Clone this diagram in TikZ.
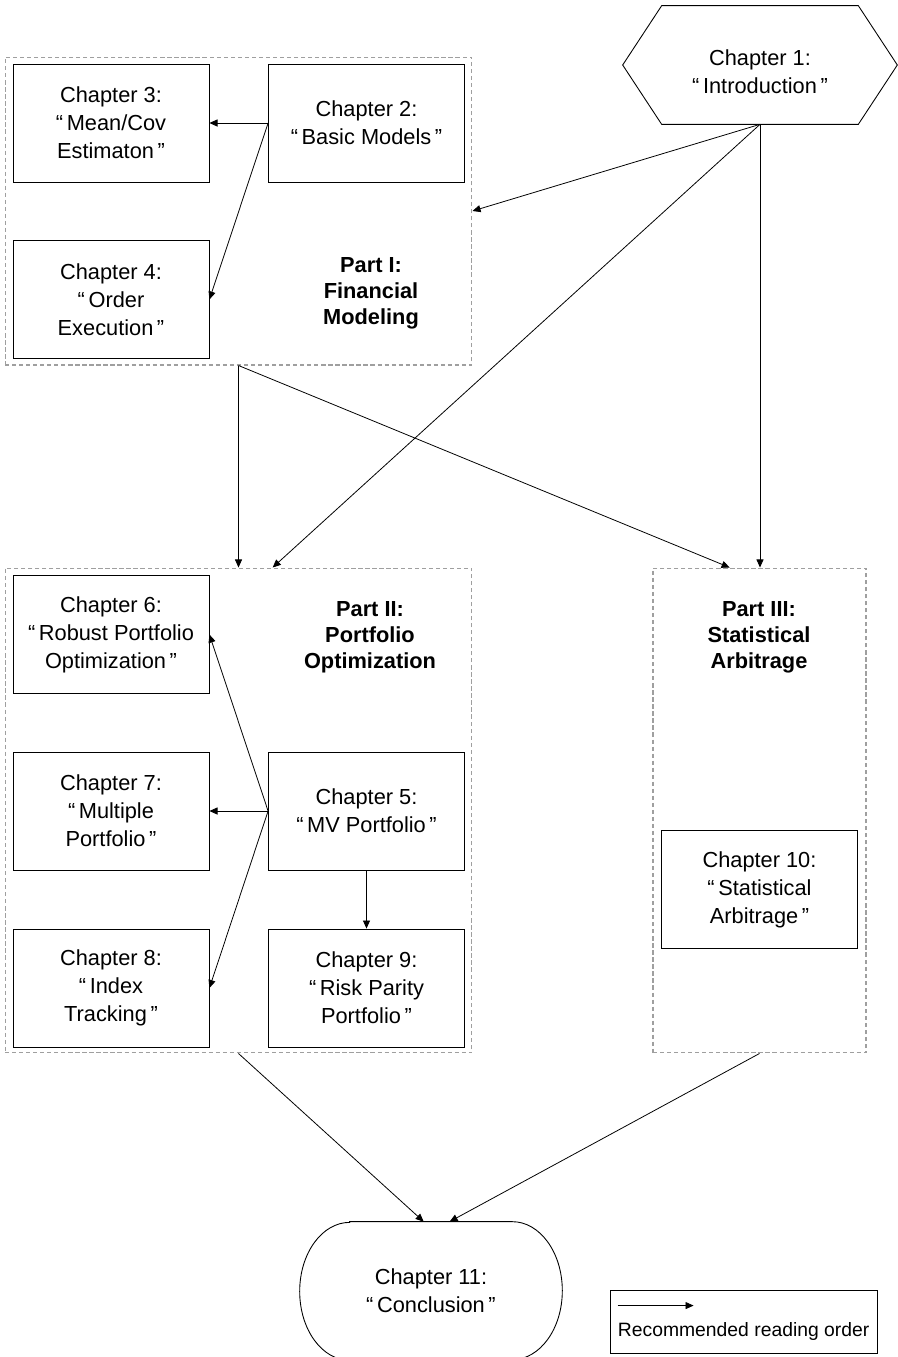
\documentclass[tikz,border=0pt]{standalone}
\usepackage{fontspec}
\setmainfont{Liberation Sans}
\usetikzlibrary{
	calc,
	arrows.meta,
	positioning,
}
\newcommand{\oq}{“\,}
\newcommand{\cq}{\,”}

\begin{document}
\begin{tikzpicture}[
                    x=0.02cm, y=-0.02cm,
                    font=\fontsize{12.4pt}{15.9pt}\selectfont,
                    chap/.style={draw, line width=0.5pt, minimum width=3.92cm, minimum height=2.36cm, inner sep=0pt, align=center},
                    part/.style={draw=gray!75, dash pattern=on 2.4pt off 1.6pt, line width=0.6pt, inner sep=0pt},
                    partlabel/.style={align=center, inner sep=0pt, font=\fontsize{12.4pt}{14.8pt}\selectfont\bfseries},
                    flow/.style={-{Triangle[length=4.6pt,width=4pt]}, line width=0.45pt},
                ]
\useasboundingbox (0,0) rectangle (898,1357);
% the three parts
\node[part, minimum width=9.34cm, minimum height=6.16cm] (part1) at (238.5,211) {};
\node[part, minimum width=9.34cm, minimum height=9.7cm] (part2) at (238.5,810.5) {};
\node[part, minimum width=4.26cm, minimum height=9.7cm] (part3) at (759.5,810.5) {};
\node[partlabel] (lab1) at (371,293) {Part I:\\Financial\\Modeling};
\node[partlabel] (lab2) at (370,637) {Part II:\\Portfolio\\Optimization};
\node[partlabel] (lab3) at (759,637) {Part III:\\Statistical\\Arbitrage};
% chapters
\node[minimum width=5.48cm, minimum height=2.36cm, inner sep=0pt] (ch1) at (760,65) {};
\draw[line width=0.5pt] (ch1.west) -- ($(ch1.north west)+(39,0)$) -- ($(ch1.north east)+(-39,0)$)
    -- (ch1.east) -- ($(ch1.south east)+(-39,0)$) -- ($(ch1.south west)+(39,0)$) -- cycle;
\node[align=center, inner sep=0pt] (ch1txt) at (760,72) {Chapter 1:\\\oq Introduction\cq};
\node[chap] (ch2) at (366.5,123) {Chapter 2:\\\oq Basic Models\cq};
\node[chap] (ch3) at (111,123) {Chapter 3:\\\oq Mean/Cov\\Estimaton\cq};
\node[chap] (ch4) at (111,299.5) {Chapter 4:\\\oq Order\\Execution\cq};
\node[chap] (ch5) at (366.5,811) {Chapter 5:\\\oq MV Portfolio\cq};
\node[chap] (ch6) at (111,634.5) {Chapter 6:\\\oq Robust Portfolio\\Optimization\cq};
\node[chap] (ch7) at (111,811) {Chapter 7:\\\oq Multiple\\Portfolio\cq};
\node[chap] (ch8) at (111,988) {Chapter 8:\\\oq Index\\Tracking\cq};
\node[chap] (ch9) at (366.5,988) {Chapter 9:\\\oq Risk Parity\\Portfolio\cq};
\node[chap] (ch10) at (759.5,889.5) {Chapter 10:\\\oq Statistical\\Arbitrage\cq};
\node[minimum width=5.24cm, minimum height=2.76cm, inner sep=0pt, align=center] (ch11) at (431,1291) {Chapter 11:\\\oq Conclusion\cq};
\draw[line width=0.5pt] ($(ch11.north west)+(50,0)$) -- ($(ch11.north east)+(-50,0)$)
    arc[start angle=90, end angle=-90, x radius=1cm, y radius=1.38cm]
    -- ($(ch11.south west)+(50,0)$)
    arc[start angle=270, end angle=90, x radius=1cm, y radius=1.38cm] -- cycle;
% reading order
\draw[flow] (ch1.south) -- (part1.east);
\draw[flow] (ch1.south) -- (part2.82);
\draw[flow] (ch1.south) -- (ch1.south |- part3.north);
\draw[flow] (part1.south) -- (part2.north);
\draw[flow] (part1.south) -- (part3.97.6);
\draw[flow] (ch2.west) -- (ch3.east);
\draw[flow] (ch2.west) -- (ch4.east);
\draw[flow] (ch5.west) -- (ch6.east);
\draw[flow] (ch5.west) -- (ch7.east);
\draw[flow] (ch5.west) -- (ch8.east);
\draw[flow] (ch5.south) -- (ch9.north);
\draw[flow] (part2.south) -- (ch11.96);
\draw[flow] (part3.south) -- (ch11.75);
% legend
\node[draw, line width=0.5pt, minimum width=5.34cm, minimum height=1.26cm, inner sep=0pt] (legend) at (743.5,1321.5) {};
\coordinate (legA) at ($(legend.north west)+(8,16)$);
\coordinate (legB) at ($(legend.north west)+(84,16)$);
\draw[flow] (legA) -- (legB);
\node[anchor=west, inner sep=0pt, font=\fontsize{11pt}{13pt}\selectfont] (legtext) at ($(legend.north west)+(8,42)$) {Recommended reading order};
\end{tikzpicture}
\end{document}
